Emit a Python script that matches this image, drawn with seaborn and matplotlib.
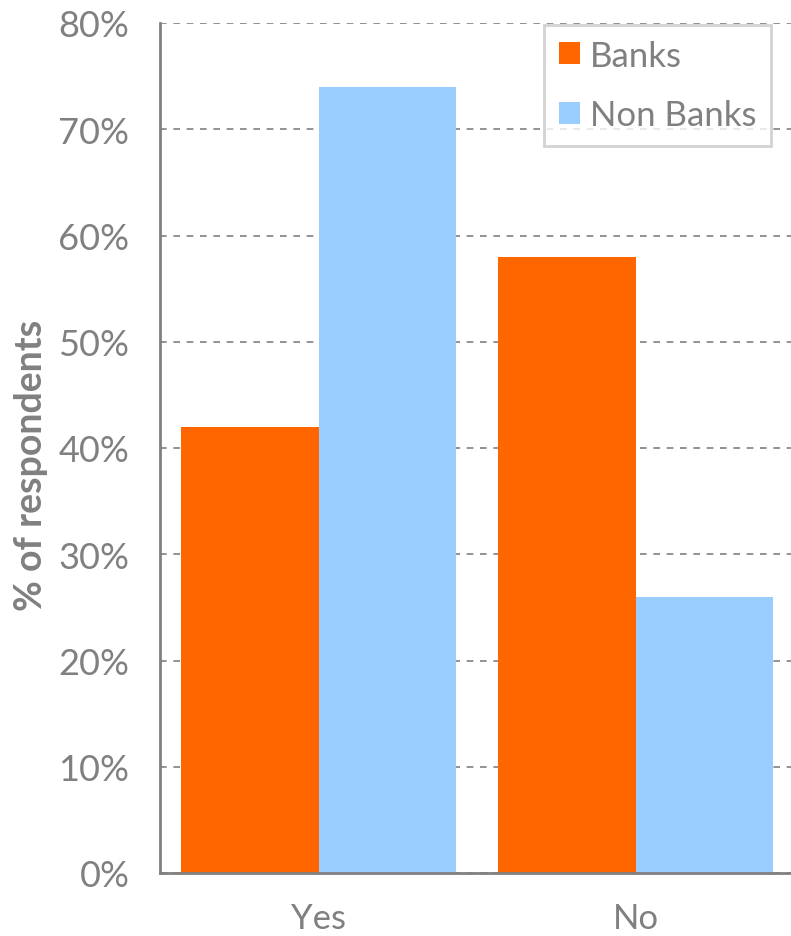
import matplotlib
matplotlib.use("Agg")
import matplotlib.pyplot as plt
import seaborn as sns
import pandas as pd
from matplotlib.ticker import FixedLocator

categories = ["Yes", "No"]
series = ["Banks", "Non Banks"]
banks = [42, 58]
non_banks = [74, 26]
colors = ["#FF6600", "#99CCFF"]
yticks = [0, 10, 20, 30, 40, 50, 60, 70, 80]
ylabel = "% of respondents"

df = pd.DataFrame({
    "answer": categories * 2,
    "group": [series[0]] * 2 + [series[1]] * 2,
    "value": banks + non_banks,
})

sns.set_theme(style="white")
plt.rcParams["font.family"] = ["Lato", "DejaVu Sans"]
grey = "#808080"

fig = plt.figure(figsize=(7.91, 9.37), dpi=100)
ax = fig.add_axes([160/791, 1-874/937, (794-160)/791, (874-24)/937])

sns.barplot(data=df, x="answer", y="value", hue="group", order=categories,
            hue_order=series, palette=colors, width=0.87, saturation=1,
            linewidth=0, ax=ax)

ax.set_xlim(-0.5, 1.5)
ax.set_ylim(0, 80)
ax.set_yticks(yticks)
ax.set_yticklabels([f"{v}%" for v in yticks], fontsize=26, color=grey)
ax.yaxis.grid(True, linestyle=(0, (4, 4)), color=grey, linewidth=1.2)
ax.set_axisbelow(True)

ax.set_xticks(range(len(categories)))
ax.set_xticklabels(categories, fontsize=25, color=grey)
ax.tick_params(axis="x", which="major", length=0, pad=21)
ax.xaxis.set_minor_locator(FixedLocator([-0.5, 0.5, 1.5]))
ax.tick_params(axis="x", which="minor", length=12, width=2, color=grey, direction="out")
ax.tick_params(axis="y", which="major", length=22, width=2, color=grey, direction="inout", pad=11)

for s in ["top", "right"]:
    ax.spines[s].set_visible(False)
for s in ["left", "bottom"]:
    ax.spines[s].set_color(grey)
    ax.spines[s].set_linewidth(2)

ax.set_xlabel("")
ax.set_ylabel(ylabel, fontsize=27, color=grey, fontweight="bold")
ax.yaxis.set_label_coords((48-160)/634, (874-465)/850)

leg = ax.legend(loc="upper right", bbox_to_anchor=((771-160)/634, (874-26)/850),
                frameon=True, fancybox=False, fontsize=25, labelcolor=grey,
                handlelength=0.6, handleheight=0.6, handletextpad=0.3,
                borderpad=0.42, labelspacing=0.8, borderaxespad=0)
leg.get_frame().set_edgecolor("#c8c8c8")
leg.get_frame().set_linewidth(2)

fig.savefig("out.png", dpi=100)
